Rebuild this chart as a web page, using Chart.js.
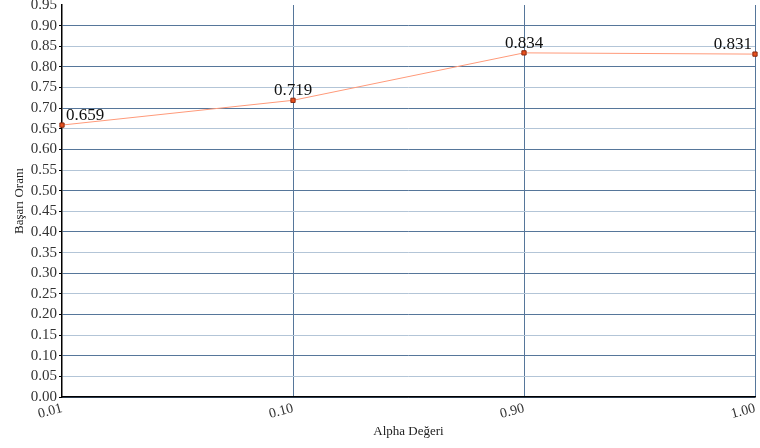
<!DOCTYPE html>
<html>
<head>
<meta charset="utf-8">
<script src="https://cdn.jsdelivr.net/npm/chart.js@4"></script>
<style>
  html, body { margin: 0; padding: 0; background: #fff; }
  #wrap { width: 760px; height: 448px; }
</style>
</head>
<body>
<div id="wrap"><canvas id="c" width="760" height="448"></canvas></div>
<script>
// ---- data
const alphaLabels = ["0.01", "0.10", "0.90", "1.00"];
const successRate = [0.659, 0.719, 0.834, 0.831];
const labelAlign = ["left", "center", "center", "right"];

const FONT = "'Liberation Serif', 'DejaVu Serif', serif";
const DARK_GRID = "#56769a", LIGHT_GRID = "#b3c5d7";

// value labels drawn above each point, positioned through the chart's own scales
const pointLabels = {
  id: "pointLabels",
  afterDatasetsDraw(chart) {
    const { ctx, scales: { x, y } } = chart;
    ctx.save();
    ctx.font = "17px " + FONT;
    ctx.fillStyle = "#111";
    ctx.textBaseline = "bottom";
    successRate.forEach((v, i) => {
      const px = x.getPixelForValue(i), py = y.getPixelForValue(v);
      ctx.textAlign = labelAlign[i];
      const dx = i === 0 ? 4 : (i === successRate.length - 1 ? -3 : 0);
      ctx.fillText(v.toFixed(3), px + dx, py - 1);
    });
    ctx.restore();
  },
};

new Chart(document.getElementById("c"), {
  type: "line",
  data: {
    labels: alphaLabels,
    datasets: [{
      data: successRate,
      borderColor: "#ff9a7a", borderWidth: 1,
      pointStyle: "rect", pointRadius: 3,
      pointBackgroundColor: "#e8501e", pointBorderColor: "#8a2a10", pointBorderWidth: 1,
      tension: 0,
    }],
  },
  options: {
    responsive: false, animation: false,
    layout: { padding: { top: 4, right: 5, left: 0, bottom: 0 } },
    plugins: { legend: { display: false }, tooltip: { enabled: false } },
    scales: {
      x: {
        type: "category", offset: false,
        afterFit(s) { s.height = 51; s.paddingRight = 0; s.paddingLeft = 0; },
        border: { color: "#000", width: 1.5 },
        grid: { color: c => c.index === 0 ? "rgba(0,0,0,0)" : DARK_GRID, drawTicks: false },
        ticks: { minRotation: 15, maxRotation: 15, padding: 3, color: "#333", autoSkip: false,
                 font: { family: FONT, size: 14 } },
        title: { display: true, text: "Alpha Değeri", color: "#222", padding: { top: 2, bottom: 9 },
                 font: { family: FONT, size: 13 } },
      },
      y: {
        min: 0, max: 0.95,
        afterFit(s) { s.width = 62; s.paddingTop = 0; s.paddingBottom = 0; },
        border: { color: "#000", width: 1.5 },
        grid: {
          color: c => (c.tick && Math.round(c.tick.value * 100) % 10 === 5) ? LIGHT_GRID : DARK_GRID,
          lineWidth: c => (c.tick && c.tick.value >= 0.949) ? 0 : 1,
          tickColor: "#000", tickLength: 3,
        },
        ticks: { stepSize: 0.05, padding: 2, color: "#333", autoSkip: false,
                 font: { family: FONT, size: 15 }, callback: v => v.toFixed(2) },
        title: { display: true, text: "Başarı Oranı", color: "#222", padding: { top: 12, bottom: 0 },
                 font: { family: FONT, size: 13 } },
      },
    },
  },
  plugins: [pointLabels],
});
</script>
</body>
</html>
